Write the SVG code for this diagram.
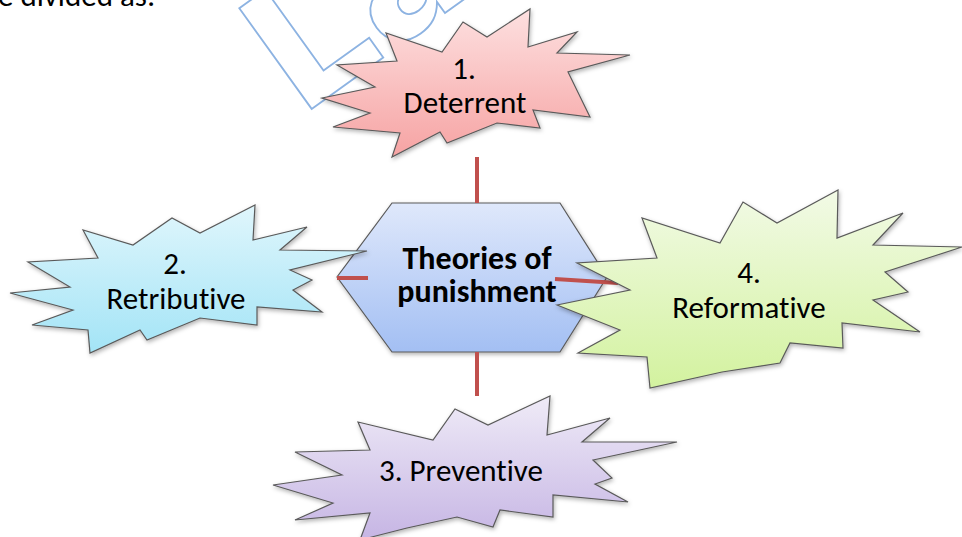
<svg xmlns="http://www.w3.org/2000/svg" width="962" height="537" viewBox="0 0 962 537">
<defs>
<linearGradient id="gRed" x1="0" y1="0" x2="0" y2="1"><stop offset="0" stop-color="#fde0e0"/><stop offset="1" stop-color="#f6a3a3"/></linearGradient>
<linearGradient id="gCyan" x1="0" y1="0" x2="0" y2="1"><stop offset="0" stop-color="#e0f6fc"/><stop offset="1" stop-color="#a3e4f6"/></linearGradient>
<linearGradient id="gGreen" x1="0" y1="0" x2="0" y2="1"><stop offset="0" stop-color="#f2fae6"/><stop offset="1" stop-color="#d3f29f"/></linearGradient>
<linearGradient id="gPurple" x1="0" y1="0" x2="0" y2="1"><stop offset="0" stop-color="#efebf7"/><stop offset="1" stop-color="#c6b5e4"/></linearGradient>
<linearGradient id="gBlue" x1="0" y1="0" x2="0" y2="1"><stop offset="0" stop-color="#dfe8fb"/><stop offset="1" stop-color="#a3bff3"/></linearGradient>
<filter id="sh" x="-10%" y="-10%" width="120%" height="130%"><feDropShadow dx="1" dy="2" stdDeviation="2" flood-color="#000" flood-opacity="0.3"/></filter>
</defs>
<style>
.shape{stroke:#5a5a5a;stroke-width:1.2;stroke-linejoin:miter;filter:url(#sh)}
text{font-variant-ligatures:none}
.lbl{font-family:Carlito,Lato,"Liberation Sans",sans-serif;font-size:31px;fill:#000;text-anchor:middle}
.bold{font-weight:bold;font-size:32px}
.conn{stroke:#c0504d;stroke-width:4;fill:none}
.wm{font-family:"DejaVu Sans",sans-serif;font-weight:bold;font-size:170px;fill:none;stroke:#8db3e2;stroke-width:1.8}
</style>
<rect width="962" height="537" fill="#fff"/>
<text x="-2" y="6" font-family="Carlito,Lato,sans-serif" font-size="31" fill="#000">e divided as:</text>
<text class="wm" transform="translate(299,118) rotate(-35.7)" x="0" y="0">La</text>
<g id="center">
<polygon class="shape" fill="url(#gBlue)" points="392,203 560,203 607,277 560,352 392,352 337,277"/>
<text class="lbl bold" x="477" y="269">Theories of</text>
<text class="lbl bold" x="477" y="302">punishment</text>
</g>
<g id="connectors">
<line class="conn" x1="477" y1="157" x2="477" y2="203"/>
<line class="conn" x1="477" y1="352" x2="477" y2="396"/>
<line class="conn" x1="337" y1="278" x2="368" y2="278"/>
<line class="conn" x1="555" y1="279" x2="618" y2="283"/>
</g>
<g id="deterrent">
<polygon class="shape" fill="url(#gRed)" points="322,98 375,87 337,65 397,61 386,33 442,52 463,22 487,37 530,9 528,47 577,32 557,53 630,55 568,72 590,117 533,110 540,128 497,123 447,143 440,132 392,157 400,133 333,127 370,113"/>
<text class="lbl" x="464" y="79">1.</text>
<text class="lbl" x="465" y="113">Deterrent</text>
</g>
<g id="retributive">
<polygon class="shape" fill="url(#gCyan)" points="10,293 70,287 28,262 98,258 83,230 133,245 172,218 200,233 255,205 253,240 307,227 280,250 367,251 290,270 312,280 293,290 322,312 257,307 257,325 200,318 147,340 140,330 90,353 88,330 32,325 73,310"/>
<text class="lbl" x="175" y="274">2.</text>
<text class="lbl" x="176" y="309">Retributive</text>
</g>
<g id="reformative">
<polygon class="shape" fill="url(#gGreen)" points="557,305 630,290 577,263 657,258 642,218 720,243 743,202 777,223 838,190 837,238 903,213 873,245 962,247 885,272 908,292 873,300 920,332 842,323 843,348 790,343 780,363 722,372 650,388 647,357 578,353 620,330"/>
<text class="lbl" x="749" y="283">4.</text>
<text class="lbl" x="749" y="318">Reformative</text>
</g>
<g id="preventive">
<polygon class="shape" fill="url(#gPurple)" points="273,485 342,475 295,452 370,450 358,422 433,440 455,409 488,425 550,396 547,435 610,418 582,442 677,442 593,460 612,478 595,484 628,502 553,495 553,517 500,510 493,527 457,517 407,528 360,540 370,513 295,520 333,503"/>
<text class="lbl" x="461" y="481">3. Preventive</text>
</g>
</svg>
